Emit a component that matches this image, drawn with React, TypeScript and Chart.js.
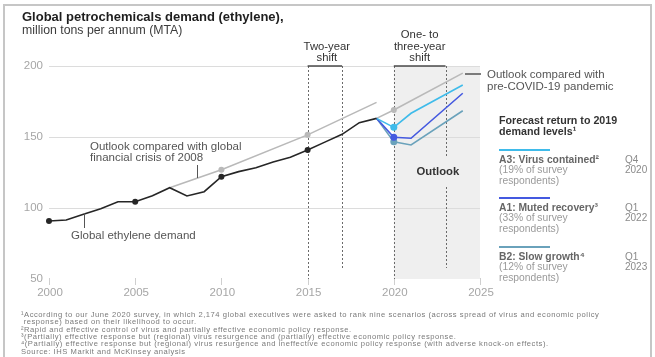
import React, { useEffect, useRef } from "react";
import { Chart, registerables } from "chart.js";
Chart.register(...registerables);

// ---------- data ----------
const demandYears = [2000, 2001, 2002, 2003, 2004, 2005, 2006, 2007, 2008, 2009, 2010, 2011, 2012, 2013, 2014, 2015, 2016, 2017, 2018, 2019];
const demandValues = [90.8, 91.5, 95.6, 99.5, 104.4, 104.4, 108.7, 114.3, 108.5, 111.5, 122, 125.6, 128.4, 132.4, 135.7, 140.8, 146.4, 151.9, 160.1, 163.1];
const demandMarkerYears = [2000, 2005, 2010, 2015];

const gfcYears = [2007, 2010, 2015, 2019];
const gfcValues = [114.3, 127, 151.5, 174.4];
const gfcMarkerYears = [2010, 2015];

const preCovidYears = [2019, 2020, 2024];
const preCovidValues = [163.1, 169, 195];
const preCovidMarkerYears = [2020];

const scenarioYears = [2019, 2020, 2021, 2024];
const a3Values = [163.1, 156.8, 166.7, 186.6];
const a1Values = [163.1, 149.8, 149.1, 180.8];
const b2Values = [163.1, 146.7, 144.4, 168.5];
const scenarioMarkerYears = [2020];

const xTicks = [2000, 2005, 2010, 2015, 2020, 2025];
const yTicks = [50, 100, 150, 200];
const yGridValues = [100, 150, 200];
const twoYearShift = [2015, 2017];
const oneToThreeShift = [2020, 2023];
const outlookRange = [2020, 2025];

const legendItems = [
  { name: "A3: Virus contained²", share: "(19% of survey", when: ["Q4", "2020"] },
  { name: "A1: Muted recovery³", share: "(33% of survey", when: ["Q1", "2022"] },
  { name: "B2: Slow growth⁴", share: "(12% of survey", when: ["Q1", "2023"] },
];

const footnotes = [
  "¹According to our June 2020 survey, in which 2,174 global executives were asked to rank nine scenarios (across spread of virus and economic policy",
  " response) based on their likelihood to occur.",
  "²Rapid and effective control of virus and partially effective economic policy response.",
  "³(Partially) effective response but (regional) virus resurgence and (partially) effective economic policy response.",
  "⁴(Partially) effective response but (regional) virus resurgence and ineffective economic policy response (with adverse knock-on effects).",
  "Source: IHS Markit and McKinsey analysis",
];

// ---------- styles ----------
const FONT = "'Liberation Sans', Arial, sans-serif";
const C_DEMAND = "#262626";
const C_OUTLOOK = "#b9b9b9";
const C_A3 = "#3fbbea";
const C_A1 = "#4459e0";
const C_B2 = "#6aa2bb";
const legendColors = [C_A3, C_A1, C_B2];

const pts = (xs: number[], ys: number[]) => xs.map((x, i) => ({ x, y: ys[i] }));
const markerRadius = (years: number[], r: number) => (ctx: any) =>
  ctx.raw && years.includes(ctx.raw.x) ? r : 0;

const decorPlugin = {
  id: "decor",
  beforeDraw(chart: any) {
    const { ctx, scales } = chart;
    const x = scales.x, y = scales.y;
    ctx.save();
    ctx.fillStyle = "#ffffff";
    ctx.fillRect(0, 0, chart.width, chart.height);
    // frame
    ctx.strokeStyle = "#c6c6c6";
    ctx.lineWidth = 2;
    ctx.strokeRect(4, 5, 647, 370);

    const top = y.getPixelForValue(200);
    const bottom = y.getPixelForValue(50);
    // outlook shading
    const s0 = x.getPixelForValue(outlookRange[0]);
    const s1 = x.getPixelForValue(outlookRange[1]);
    ctx.fillStyle = "#efefef";
    ctx.fillRect(s0, top, s1 - s0, bottom - top);

    // gridlines
    ctx.strokeStyle = "#dcdcdc";
    ctx.lineWidth = 1;
    yGridValues.forEach((v) => {
      const py = Math.round(y.getPixelForValue(v)) + 0.5;
      ctx.beginPath();
      ctx.moveTo(x.getPixelForValue(2000), py);
      ctx.lineTo(x.getPixelForValue(2025), py);
      ctx.stroke();
    });
    // x ticks
    ctx.strokeStyle = "#cfcfcf";
    xTicks.forEach((v) => {
      const px = Math.round(x.getPixelForValue(v)) + 0.5;
      ctx.beginPath();
      ctx.moveTo(px, bottom - 1);
      ctx.lineTo(px, bottom + 6);
      ctx.stroke();
    });
    // tick labels
    ctx.fillStyle = "#a6a6a6";
    ctx.font = `11.5px ${FONT}`;
    ctx.textBaseline = "middle";
    ctx.textAlign = "center";
    xTicks.forEach((v) => ctx.fillText(String(v), x.getPixelForValue(v) + 1, bottom + 14));
    ctx.textAlign = "right";
    yTicks.forEach((v) => ctx.fillText(String(v), x.getPixelForValue(2000) - 6, y.getPixelForValue(v)));

    // dashed vertical lines
    ctx.strokeStyle = "#6a6a6a";
    ctx.lineWidth = 1;
    ctx.setLineDash([2, 2]);
    const vline = (yr: number, y0: number, y1: number) => {
      const px = Math.round(x.getPixelForValue(yr)) + 0.5;
      ctx.beginPath();
      ctx.moveTo(px, y0);
      ctx.lineTo(px, y1);
      ctx.stroke();
    };
    vline(twoYearShift[0], top, bottom);
    vline(twoYearShift[1], top, bottom - 11);
    vline(oneToThreeShift[0], top, bottom);
    vline(oneToThreeShift[1], top, top + 92);
    vline(oneToThreeShift[1], top + 121, bottom - 11);
    ctx.setLineDash([]);

    // brackets
    ctx.strokeStyle = "#4a4a4a";
    ctx.lineWidth = 1.5;
    [twoYearShift, oneToThreeShift].forEach(([a, b]) => {
      ctx.beginPath();
      ctx.moveTo(x.getPixelForValue(a), top);
      ctx.lineTo(x.getPixelForValue(b), top);
      ctx.stroke();
    });
    ctx.restore();
  },
  afterDraw(chart: any) {
    const { ctx, scales } = chart;
    const x = scales.x, y = scales.y;
    const top = y.getPixelForValue(200);
    ctx.save();
    ctx.textBaseline = "middle";

    // title
    ctx.textAlign = "left";
    ctx.fillStyle = "#1e1e1e";
    ctx.font = `bold 13px ${FONT}`;
    ctx.fillText("Global petrochemicals demand (ethylene),", 22, 17);
    ctx.fillStyle = "#3c3c3c";
    ctx.font = `12.3px ${FONT}`;
    ctx.fillText("million tons per annum (MTA)", 22, 31);

    // shift labels
    ctx.fillStyle = "#333333";
    ctx.font = `11.3px ${FONT}`;
    ctx.textAlign = "center";
    const c1 = (x.getPixelForValue(twoYearShift[0]) + x.getPixelForValue(twoYearShift[1])) / 2 + 2;
    ctx.fillText("Two-year", c1, top - 19);
    ctx.fillText("shift", c1, top - 8.5);
    const c2 = (x.getPixelForValue(oneToThreeShift[0]) + x.getPixelForValue(oneToThreeShift[1])) / 2;
    ctx.fillText("One- to", c2, top - 31);
    ctx.fillText("three-year", c2, top - 19);
    ctx.fillText("shift", c2, top - 8.5);

    // Outlook label
    ctx.font = `bold 11.3px ${FONT}`;
    ctx.fillStyle = "#333333";
    ctx.fillText("Outlook", x.getPixelForValue(2022.5) + 1, top + 106);

    // annotations
    ctx.textAlign = "left";
    ctx.font = `11.5px ${FONT}`;
    ctx.fillStyle = "#555555";
    ctx.fillText("Outlook compared with global", 90, 147);
    ctx.fillText("financial crisis of 2008", 90, 157.5);
    ctx.fillText("Global ethylene demand", 71, 236);
    ctx.fillText("Outlook compared with", 487, 75);
    ctx.fillText("pre-COVID-19 pandemic", 487, 87);

    ctx.strokeStyle = "#555555";
    ctx.lineWidth = 1;
    const seg = (x0: number, y0: number, x1: number, y1: number) => {
      ctx.beginPath();
      ctx.moveTo(x0, y0);
      ctx.lineTo(x1, y1);
      ctx.stroke();
    };
    seg(197.5, 165, 197.5, 178);
    seg(84.5, 213, 84.5, 228);
    ctx.lineWidth = 1.5;
    seg(465, 74, 481, 74);

    // legend panel
    const lx = 499;
    ctx.fillStyle = "#333333";
    ctx.font = `bold 10.7px ${FONT}`;
    ctx.fillText("Forecast return to 2019", lx, 121);
    ctx.fillText("demand levels¹", lx, 132);
    const blockY = [150, 198, 247];
    legendItems.forEach((it, i) => {
      const by = blockY[i];
      ctx.strokeStyle = legendColors[i];
      ctx.lineWidth = 2;
      seg(lx, by, 550, by);
      ctx.font = `bold 10.3px ${FONT}`;
      ctx.fillStyle = "#666666";
      ctx.fillText(it.name, lx, by + 10);
      ctx.font = `10.3px ${FONT}`;
      ctx.fillStyle = "#9a9a9a";
      ctx.fillText(it.share, lx, by + 20.5);
      ctx.fillText("respondents)", lx, by + 31);
      ctx.fillStyle = "#8a8a8a";
      ctx.font = `10px ${FONT}`;
      ctx.fillText(it.when[0], 625, by + 10);
      ctx.fillText(it.when[1], 625, by + 20.5);
    });

    // footnotes
    ctx.font = `7.6px ${FONT}`;
    (ctx as any).letterSpacing = "0.54px";
    ctx.fillStyle = "#7a7a7a";
    const fy = [315, 322.3, 329.6, 336.9, 344.2, 351.5];
    footnotes.forEach((t, i) => ctx.fillText(t, 21, fy[i]));
    (ctx as any).letterSpacing = "0px";
    ctx.restore();
  },
};

export default function App() {
  const ref = useRef<HTMLCanvasElement | null>(null);
  useEffect(() => {
    if (!ref.current) return;
    const mk = (label: string, xs: number[], ys: number[], color: string, width: number, markers: number[], r: number, order: number) => ({
      label,
      data: pts(xs, ys),
      borderColor: color,
      backgroundColor: color,
      borderWidth: width,
      pointRadius: markerRadius(markers, r),
      pointBorderWidth: 0,
      pointHoverRadius: 0,
      tension: 0,
      clip: false as any,
      order,
    });
    const chart = new Chart(ref.current, {
      type: "line",
      data: {
        datasets: [
          mk("Global ethylene demand", demandYears, demandValues, C_DEMAND, 1.6, demandMarkerYears, 3, 0),
          mk("Outlook compared with global financial crisis of 2008", gfcYears, gfcValues, C_OUTLOOK, 1.6, gfcMarkerYears, 3, 5),
          mk("Outlook compared with pre-COVID-19 pandemic", preCovidYears, preCovidValues, C_OUTLOOK, 1.6, preCovidMarkerYears, 3, 5),
          mk("B2: Slow growth", scenarioYears, b2Values, C_B2, 1.6, scenarioMarkerYears, 3.5, 3),
          mk("A1: Muted recovery", scenarioYears, a1Values, C_A1, 1.6, scenarioMarkerYears, 3.5, 2),
          mk("A3: Virus contained", scenarioYears, a3Values, C_A3, 1.6, scenarioMarkerYears, 3.5, 1),
        ] as any,
      },
      options: {
        animation: false,
        responsive: false,
        devicePixelRatio: 1,
        events: [],
        layout: { padding: { left: 49, right: 175, top: 66, bottom: 78 } },
        scales: {
          x: { type: "linear", min: 2000, max: 2025, display: false },
          y: { type: "linear", min: 50, max: 200, display: false },
        },
        plugins: { legend: { display: false }, tooltip: { enabled: false }, title: { display: false } },
      },
      plugins: [decorPlugin],
    });
    return () => chart.destroy();
  }, []);
  return (
    <div style={{ position: "fixed", left: 0, top: 0, width: 655, height: 357, background: "#fff" }}>
      <canvas ref={ref} width={655} height={357} style={{ display: "block", width: 655, height: 357 }} />
    </div>
  );
}
